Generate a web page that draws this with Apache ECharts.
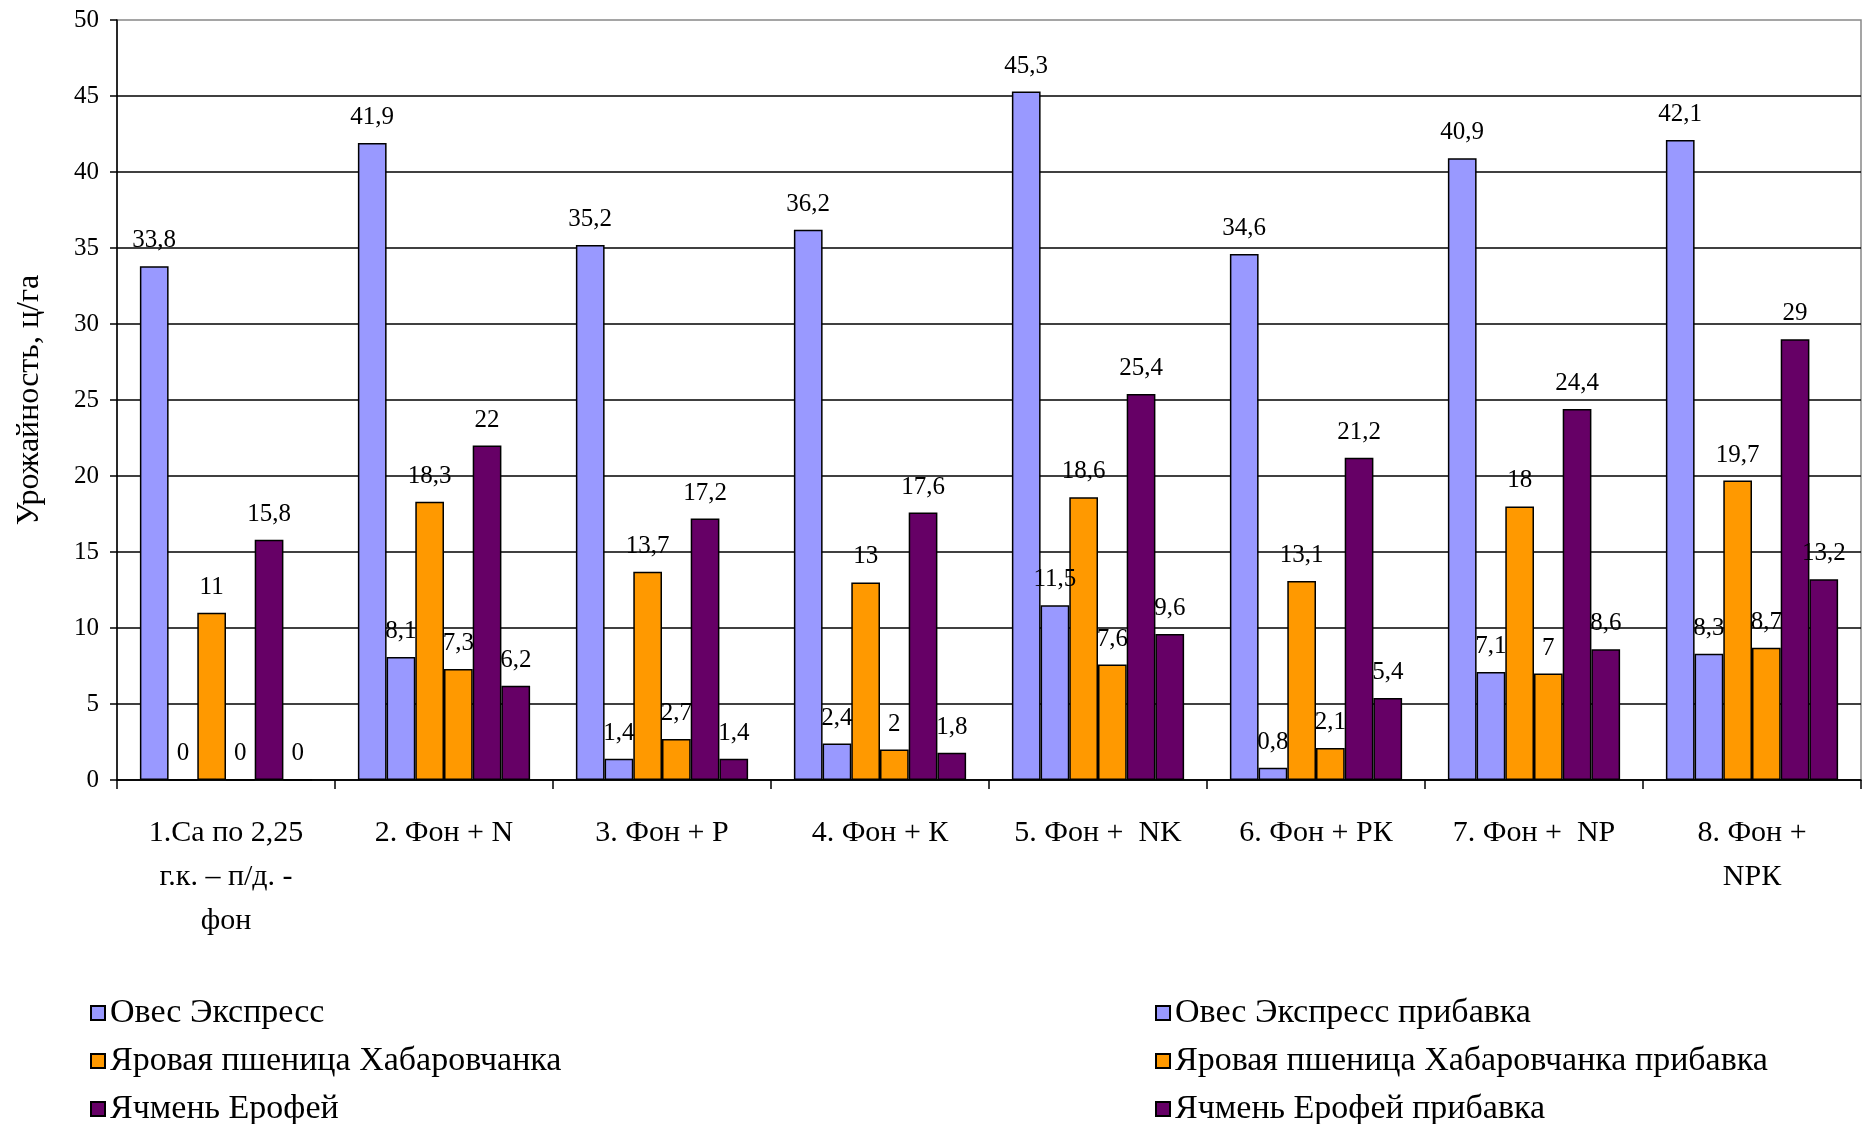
<!DOCTYPE html>
<html><head><meta charset="utf-8">
<script src="https://cdn.jsdelivr.net/npm/echarts@6/dist/echarts.min.js"></script>
<style>html,body{margin:0;padding:0;background:#fff}#c{width:1870px;height:1124px}</style>
</head><body><div id="c"></div>
<script>
const categories = ['1.Ca по 2,25\nг.к. – п/д. -\nфон', '2. Фон + N', '3. Фон + P', '4. Фон + К', '5. Фон +  NK', '6. Фон + РК', '7. Фон +  NP', '8. Фон +\nNPК'];
const seriesNames = ['Овес Экспресс', 'Овес Экспресс прибавка', 'Яровая пшеница Хабаровчанка', 'Яровая пшеница Хабаровчанка прибавка', 'Ячмень Ерофей', 'Ячмень Ерофей прибавка'];
const oats = [33.8, 41.9, 35.2, 36.2, 45.3, 34.6, 40.9, 42.1];
const oatsGain = [0, 8.1, 1.4, 2.4, 11.5, 0.8, 7.1, 8.3];
const wheat = [11, 18.3, 13.7, 13, 18.6, 13.1, 18, 19.7];
const wheatGain = [0, 7.3, 2.7, 2, 7.6, 2.1, 7, 8.7];
const barley = [15.8, 22, 17.2, 17.6, 25.4, 21.2, 24.4, 29];
const barleyGain = [0, 6.2, 1.4, 1.8, 9.6, 5.4, 8.6, 13.2];
const yTicks = [0, 5, 10, 15, 20, 25, 30, 35, 40, 45, 50];
const colors = ['#9999FF', '#9999FF', '#FF9900', '#FF9900', '#660066', '#660066'];
const values = [oats, oatsGain, wheat, wheatGain, barley, barleyGain];

const FONT = '"Liberation Serif", "DejaVu Serif", serif';
const chart = echarts.init(document.getElementById('c'));
const series = values.map((v, i) => ({
  name: seriesNames[i],
  type: 'bar',
  data: v,
  barGap: '0%',
  barCategoryGap: '21%',
  itemStyle: { color: colors[i], borderColor: '#000', borderWidth: 1.5 },
  label: {
    show: true, position: 'top', distance: 13,
    fontFamily: FONT, fontSize: 25, color: '#000',
    formatter: p => String(p.value).replace('.', ',')
  }
}));
const legendCommon = {
  orient: 'vertical', top: 996, height: 160, padding: 0,
  itemWidth: 14, itemHeight: 14, itemGap: 14, icon: 'rect',
  textStyle: { fontFamily: FONT, fontSize: 34, color: '#000', lineHeight: 32 }
};
chart.setOption({
  animation: false,
  color: colors,
  grid: { left: 117, top: 20, right: 9, bottom: 344, show: true, borderColor: '#888', borderWidth: 1.5, backgroundColor: 'transparent' },
  legend: [
    Object.assign({ data: seriesNames.filter((_, i) => i % 2 === 0), left: 90 }, legendCommon),
    Object.assign({ data: seriesNames.filter((_, i) => i % 2 === 1), left: 1155 }, legendCommon)
  ],
  xAxis: {
    type: 'category', data: categories,
    axisLine: { lineStyle: { color: '#000', width: 1.5 } },
    axisTick: { show: true, length: 9, lineStyle: { color: '#000', width: 1.5 } },
    axisLabel: { fontFamily: FONT, fontSize: 30, color: '#000', margin: 31, lineHeight: 44, interval: 0 }
  },
  yAxis: {
    type: 'value', min: 0, max: 50, interval: 5,
    name: 'Урожайность, ц/га', nameLocation: 'middle', nameGap: 71, nameRotate: 90,
    nameTextStyle: { fontFamily: FONT, fontSize: 32, color: '#000' },
    axisLine: { show: true, lineStyle: { color: '#000', width: 1.5 } },
    axisTick: { show: true, length: 7, lineStyle: { color: '#000', width: 1.5 } },
    axisLabel: { fontFamily: FONT, fontSize: 25, color: '#000', margin: 18, formatter: v => yTicks.includes(v) ? String(v) : '' },
    splitLine: { show: true, showMaxLine: false, lineStyle: { color: '#000', width: 1.5 } }
  },
  series: series
});
</script></body></html>
